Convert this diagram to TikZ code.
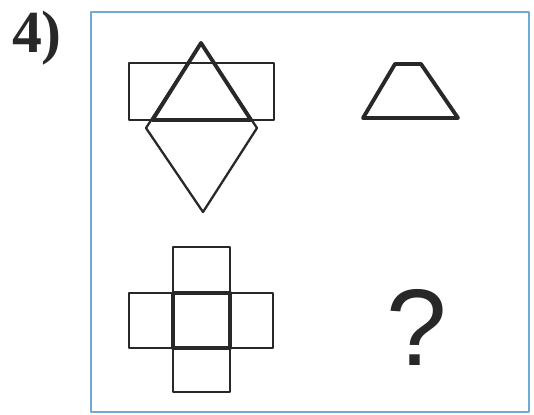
\documentclass[tikz,border=0pt]{standalone}
\usepackage{fontspec}
\setmainfont{Liberation Serif}
\newfontfamily\qfont{Liberation Sans}
\usepackage{tikz}
\usetikzlibrary{calc, positioning}
\usepackage{xcolor}
\definecolor{frameblue}{RGB}{110, 170, 210}
\definecolor{ink}{RGB}{40, 40, 40}

\begin{document}
\begin{tikzpicture}[x=0.02cm, y=-0.02cm, line join=round,
    thinline/.style={ink, line width=1.3pt},
    thickline/.style={ink, line width=2.2pt}]
  \useasboundingbox (0,0) rectangle (534,414);
  % Frame of the puzzle
  \draw[frameblue, line width=1.4pt] (91,12) rectangle (529,412);
  \node[font=\fontsize{34}{40}\bfseries\selectfont, ink] (num) at (37,38) {4)};

  % Top left: rectangle, rhombus and thick triangle
  \coordinate (apex) at (201,43);
  \coordinate (rl) at (146,128);
  \coordinate (rr) at (257,128);
  \coordinate (rb) at (203,212);
  \draw[thinline] (129,63) rectangle (274,120);
  \draw[thinline] (apex) -- (rl) -- (rb) -- (rr) -- cycle;
  \draw[thickline] (apex) -- (152.5,120) -- (251,120) -- cycle;

  % Top right: trapezoid
  \draw[thickline] (395,64) -- (421,64) -- (458,118) -- (363,118) -- cycle;

  % Bottom left: cross of squares
  \def\a{173} \def\b{230} \def\c{293} \def\d{348}
  \draw[thinline] (\a,247) rectangle (\b,\c);
  \draw[thinline] (129,\c) rectangle (\a,\d);
  \draw[thinline] (\b,\c) rectangle (273,\d);
  \draw[thinline] (\a,\d) rectangle (\b,392);
  \draw[thickline] (\a,\c) rectangle (\b,\d);

  % Bottom right: the question
  \node[font=\qfont\fontsize{62}{70}\selectfont, ink] (ask) at (417,327) {?};
\end{tikzpicture}
\end{document}
